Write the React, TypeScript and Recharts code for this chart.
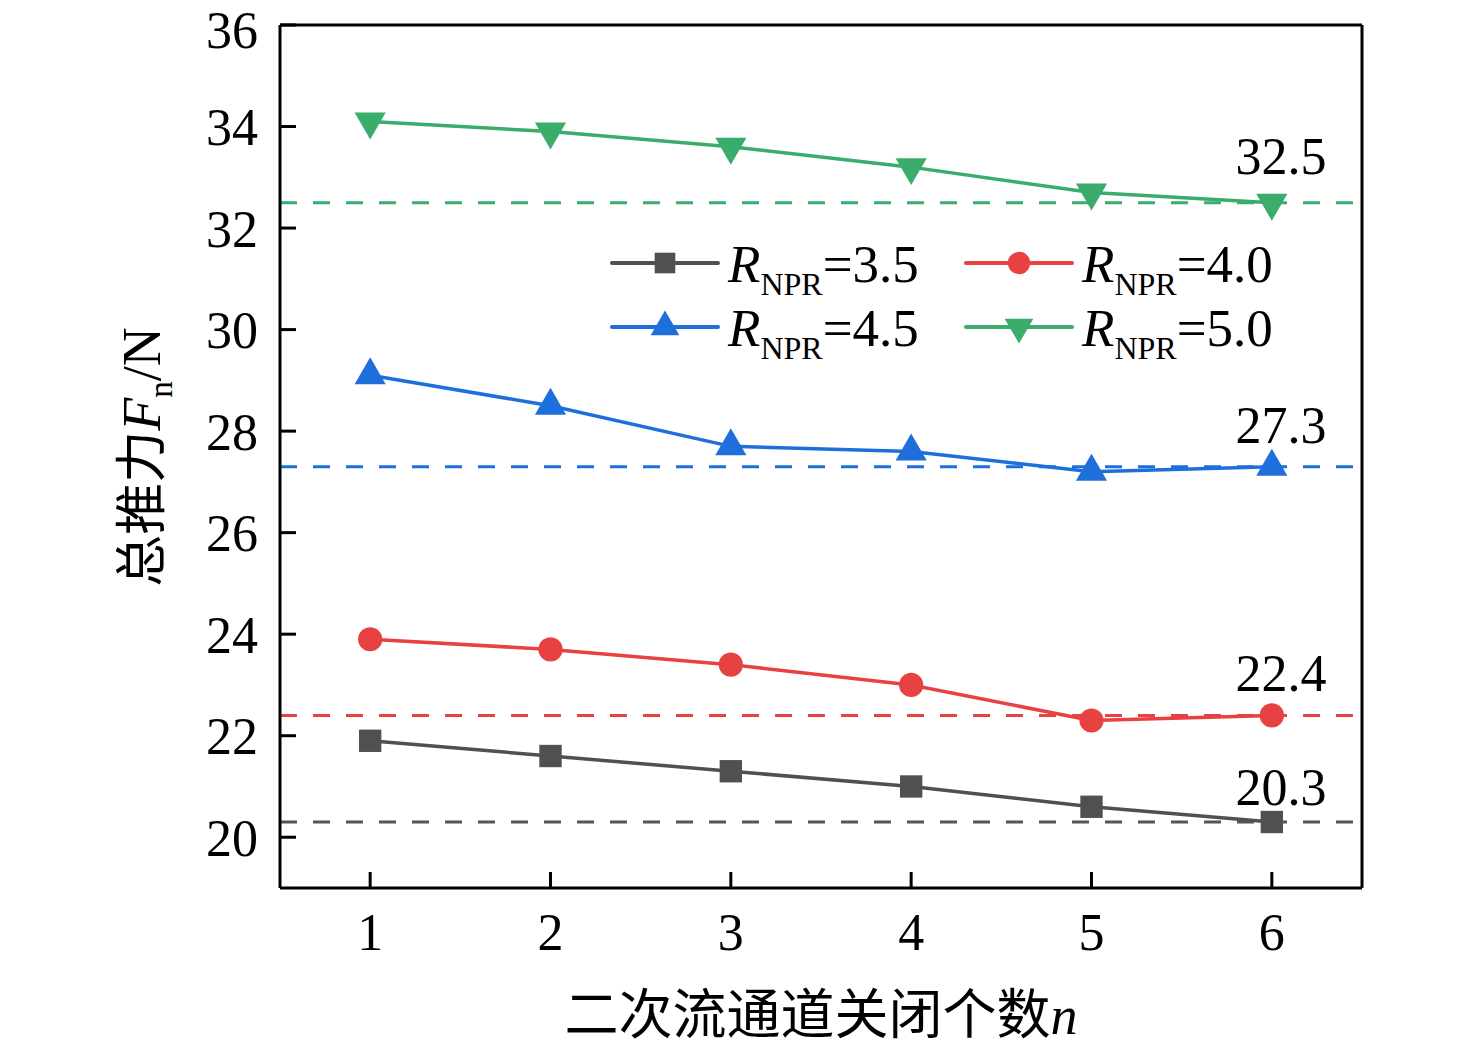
import { Legend, Line, LineChart, ReferenceLine, Symbols, XAxis, YAxis } from 'recharts';

const closedCounts = [1, 2, 3, 4, 5, 6];
const npr35 = [21.9, 21.6, 21.3, 21.0, 20.6, 20.3];
const npr40 = [23.9, 23.7, 23.4, 23.0, 22.3, 22.4];
const npr45 = [29.1, 28.5, 27.7, 27.6, 27.2, 27.3];
const npr50 = [34.1, 33.9, 33.6, 33.2, 32.7, 32.5];
const finalValues = [20.3, 22.4, 27.3, 32.5];
const yTicks = [20, 22, 24, 26, 28, 30, 32, 34, 36];
const xTicks = [1, 2, 3, 4, 5, 6];

const data = closedCounts.map((n, i) => ({
  n,
  r35: npr35[i],
  r40: npr40[i],
  r45: npr45[i],
  r50: npr50[i],
}));

const SERIF = '"Liberation Serif", "Times New Roman", serif';
const CJK = '"Noto Sans CJK SC", sans-serif';

const series = [
  { key: 'r35', label: '3.5', color: '#505050', shape: 'square', size: 500 },
  { key: 'r40', label: '4.0', color: '#E84142', shape: 'circle', size: 460 },
  { key: 'r45', label: '4.5', color: '#1E6FDB', shape: 'triangle', size: 420 },
  { key: 'r50', label: '5.0', color: '#3AAC6B', shape: 'triangleDown', size: 420 },
];

// lift of the value text above each dashed line
const labelLift = [17, 24, 24, 29];
const refColors = ['#555555', '#E84142', '#1E6FDB', '#3AAC6B'];

function Marker({ cx, cy, shape, color, size }: any) {
  if (cx == null || cy == null) return null;
  if (shape === 'triangleDown') {
    return (
      <g transform={`rotate(180 ${cx} ${cy})`}>
        <Symbols cx={cx} cy={cy} type="triangle" size={size} fill={color} />
      </g>
    );
  }
  return <Symbols cx={cx} cy={cy} type={shape} size={size} fill={color} />;
}

function RefValue({ viewBox, text, lift }: any) {
  if (!viewBox) return null;
  const x = viewBox.x + viewBox.width - 81;
  return (
    <text x={x} y={viewBox.y - lift} textAnchor="middle" fontFamily={SERIF} fontSize={52} fill="#000">
      {text}
    </text>
  );
}

function XTitle() {
  return (
    <text x={821} y={1034} textAnchor="middle" fontSize={54} fill="#000">
      <tspan fontFamily={CJK}>二次流通道关闭个数</tspan>
      <tspan fontFamily={SERIF} fontStyle="italic">n</tspan>
    </text>
  );
}

function YTitle() {
  return (
    <text x={160} y={457} transform="rotate(-90 160 457)" textAnchor="middle" fontSize={54} fill="#000">
      <tspan fontFamily={CJK} fontSize={52}>总推力</tspan>
      <tspan fontFamily={SERIF} fontStyle="italic">F</tspan>
      <tspan fontFamily={SERIF} fontSize={33} dy={12}>n</tspan>
      <tspan fontFamily={SERIF} dy={-12}>/N</tspan>
    </text>
  );
}

function LegendBox() {
  const cols = [12, 366];
  const rows = [43, 107];
  return (
    <svg width={700} height={160} style={{ display: 'block', overflow: 'visible' }}>
      {series.map((s, i) => {
        const x0 = cols[i % 2];
        const y0 = rows[Math.floor(i / 2)];
        return (
          <g key={s.key}>
            <line x1={x0} x2={x0 + 106} y1={y0} y2={y0} stroke={s.color} strokeWidth={4} strokeLinecap="round" />
            <Marker cx={x0 + 53} cy={y0} shape={s.shape} color={s.color} size={s.size * 0.85} />
            <text x={x0 + 116} y={y0 + 19} fontFamily={SERIF} fontSize={53} fill="#000">
              <tspan fontStyle="italic">R</tspan>
              <tspan fontSize={32} dy={13}>NPR</tspan>
              <tspan dy={-13}>={s.label}</tspan>
            </text>
          </g>
        );
      })}
    </svg>
  );
}

export default function App() {
  return (
    <div style={{ position: 'absolute', left: 0, top: 0, background: '#fff' }}>
      <LineChart width={1476} height={1054} data={data} margin={{ top: 25, right: 114, left: 180, bottom: 66 }}>
        <XAxis
          dataKey="n"
          type="number"
          domain={[0.5, 6.5]}
          ticks={xTicks}
          height={100}
          axisLine={{ stroke: '#000', strokeWidth: 3 }}
          tickLine={{ stroke: '#000', strokeWidth: 3 }}
          tickSize={-16}
          tickMargin={41}
          tick={{ fill: '#000', fontSize: 52, fontFamily: SERIF }}
          label={<XTitle />}
        />
        <YAxis
          type="number"
          domain={[19, 36]}
          ticks={yTicks}
          width={100}
          axisLine={{ stroke: '#000', strokeWidth: 3 }}
          tickLine={{ stroke: '#000', strokeWidth: 3 }}
          tickSize={-16}
          tickMargin={38}
          tick={{ fill: '#000', fontSize: 52, fontFamily: SERIF }}
          label={<YTitle />}
        />
        {finalValues.map((v, i) => (
          <ReferenceLine
            key={v}
            y={v}
            stroke={refColors[i]}
            strokeWidth={3}
            strokeDasharray="17 16"
            label={<RefValue text={v.toFixed(1)} lift={labelLift[i]} />}
          />
        ))}
        <ReferenceLine y={36} stroke="#000" strokeWidth={3} ifOverflow="visible" />
        <ReferenceLine x={6.5} stroke="#000" strokeWidth={3} ifOverflow="visible" />
        <Legend
          layout="vertical"
          align="center"
          verticalAlign="middle"
          wrapperStyle={{ left: 600, top: 220, width: 700, height: 160 }}
          content={() => <LegendBox />}
        />
        {series.map((s) => (
          <Line
            key={s.key}
            dataKey={s.key}
            type="linear"
            stroke={s.color}
            strokeWidth={3.5}
            isAnimationActive={false}
            dot={(p: any) => <Marker key={`${s.key}-${p.index}`} cx={p.cx} cy={p.cy} shape={s.shape} color={s.color} size={s.size} />}
            activeDot={false}
          />
        ))}
      </LineChart>
    </div>
  );
}
